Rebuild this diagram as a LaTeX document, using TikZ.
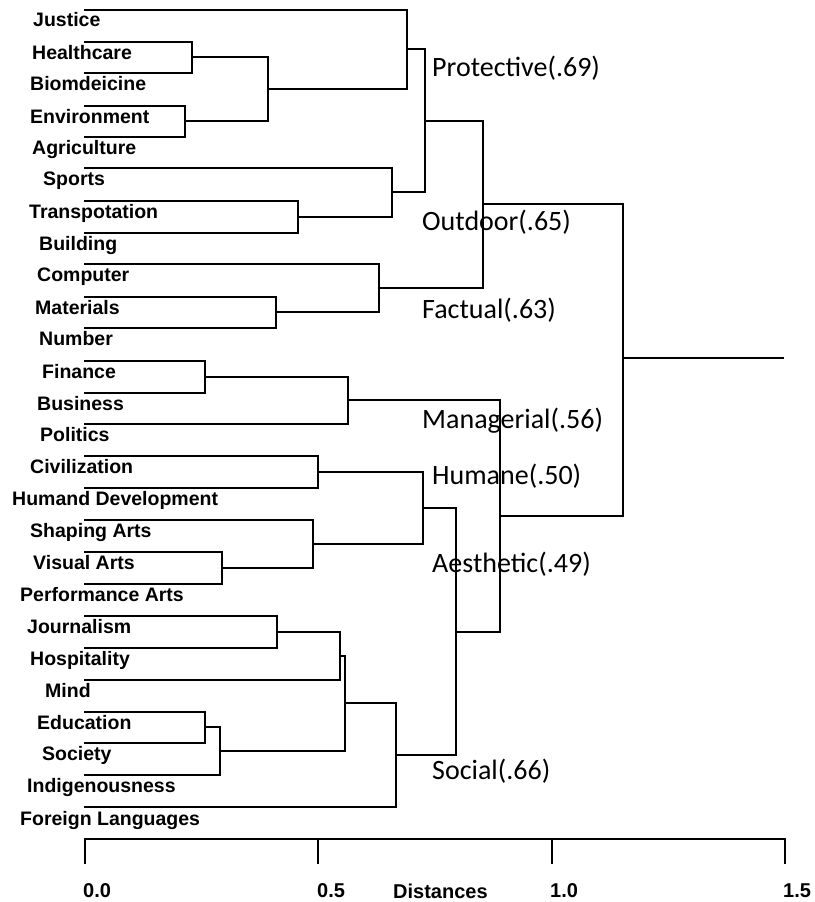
\documentclass[tikz,border=0pt]{standalone}
\usepackage{fontspec}
\setmainfont{Liberation Sans}
\newfontfamily\clusterfont{Carlito}
\begin{document}
\begin{tikzpicture}[x=1pt,y=-1pt,
  leaf/.style={font=\fontsize{19.5}{19.5}\selectfont\bfseries, anchor=base west, inner sep=0pt},
  clus/.style={font=\clusterfont\fontsize{28}{28}\selectfont, anchor=west, inner sep=0pt},
  ticklab/.style={font=\fontsize{20}{20}\selectfont\bfseries, anchor=base west, inner sep=0pt},
  dline/.style={line width=1.9pt, line cap=rect, line join=miter}]
\useasboundingbox (0,0) rectangle (814,902);
% leaf line starts
\foreach \n/\y in {Justice/10, Healthcare/42, Biomdeicine/73, Environment/106, Agriculture/137,
  Sports/168, Transpotation/201, Building/233, Computer/264, Materials/297, Number/328,
  Finance/361, Business/393, Politics/424, Civilization/456, HumandDev/488, Shaping/520,
  Visual/552, Performance/584, Journalism/616, Hospitality/648, Mind/680, Education/712,
  Society/743, Indigenousness/775, Foreign/807}
  \coordinate (l\n) at (85,\y);
% leaf labels
\node[leaf] (tJustice) at (33,27) {Justice};
\node[leaf] (tHealthcare) at (32,59) {Healthcare};
\node[leaf] (tBiomdeicine) at (30,90) {Biomdeicine};
\node[leaf] (tEnvironment) at (30,123) {Environment};
\node[leaf] (tAgriculture) at (32,154) {Agriculture};
\node[leaf] (tSports) at (43,185) {Sports};
\node[leaf] (tTranspotation) at (29,218) {Transpotation};
\node[leaf] (tBuilding) at (39,250) {Building};
\node[leaf] (tComputer) at (37,281) {Computer};
\node[leaf] (tMaterials) at (35,314) {Materials};
\node[leaf] (tNumber) at (39,345) {Number};
\node[leaf] (tFinance) at (42,378) {Finance};
\node[leaf] (tBusiness) at (37,410) {Business};
\node[leaf] (tPolitics) at (40,441) {Politics};
\node[leaf] (tCivilization) at (30,473) {Civilization};
\node[leaf] (tHumandDev) at (12,505) {Humand Development};
\node[leaf] (tShaping) at (30,537) {Shaping Arts};
\node[leaf] (tVisual) at (33,569) {Visual Arts};
\node[leaf] (tPerformance) at (20,601) {Performance Arts};
\node[leaf] (tJournalism) at (27,633) {Journalism};
\node[leaf] (tHospitality) at (30,665) {Hospitality};
\node[leaf] (tMind) at (45,697) {Mind};
\node[leaf] (tEducation) at (37,729) {Education};
\node[leaf] (tSociety) at (42,760) {Society};
\node[leaf] (tIndigenousness) at (27,792) {Indigenousness};
\node[leaf] (tForeign) at (20,825) {Foreign Languages};
% merge points
\coordinate (m1) at (192,57);
\coordinate (m2) at (185,121);
\coordinate (m3) at (268,89);
\coordinate (m4) at (407,49);
\coordinate (m5) at (298,217);
\coordinate (m6) at (392,192);
\coordinate (m7) at (425,121);
\coordinate (m8) at (276,312);
\coordinate (m9) at (379,288);
\coordinate (m10) at (483,204);
\coordinate (m11) at (205,377);
\coordinate (m12) at (348,400);
\coordinate (m13) at (318,472);
\coordinate (m14) at (222,568);
\coordinate (m15) at (313,544);
\coordinate (m16) at (423,508);
\coordinate (m17) at (277,632);
\coordinate (m18) at (340,656);
\coordinate (m19) at (205,727);
\coordinate (m20) at (220,751);
\coordinate (m21) at (345,703);
\coordinate (m22) at (396,755);
\coordinate (m23) at (456,632);
\coordinate (m24) at (500,516);
\coordinate (m25) at (623,358);
\coordinate (rootend) at (783,358);
% brackets
\draw[dline] (lHealthcare) -| (m1) |- (lBiomdeicine);
\draw[dline] (lEnvironment) -| (m2) |- (lAgriculture);
\draw[dline] (m1) -| (m3) |- (m2);
\draw[dline] (lJustice) -| (m4) |- (m3);
\draw[dline] (lTranspotation) -| (m5) |- (lBuilding);
\draw[dline] (lSports) -| (m6) |- (m5);
\draw[dline] (m4) -| (m7) |- (m6);
\draw[dline] (lMaterials) -| (m8) |- (lNumber);
\draw[dline] (lComputer) -| (m9) |- (m8);
\draw[dline] (m7) -| (m10) |- (m9);
\draw[dline] (lFinance) -| (m11) |- (lBusiness);
\draw[dline] (m11) -| (m12) |- (lPolitics);
\draw[dline] (lCivilization) -| (m13) |- (lHumandDev);
\draw[dline] (lVisual) -| (m14) |- (lPerformance);
\draw[dline] (lShaping) -| (m15) |- (m14);
\draw[dline] (m13) -| (m16) |- (m15);
\draw[dline] (lJournalism) -| (m17) |- (lHospitality);
\draw[dline] (m17) -| (m18) |- (lMind);
\draw[dline] (lEducation) -| (m19) |- (lSociety);
\draw[dline] (m19) -| (m20) |- (lIndigenousness);
\draw[dline] (m18) -| (m21) |- (m20);
\draw[dline] (m21) -| (m22) |- (lForeign);
\draw[dline] (m16) -| (m23) |- (m22);
\draw[dline] (m12) -| (m24) |- (m23);
\draw[dline] (m10) -| (m25) |- (m24);
\draw[dline] (m25) -- (rootend);
% cluster labels
\node[clus] (cProtective) at (432,68) {Protective(.69)};
\node[clus] (cOutdoor) at (422,222) {Outdoor(.65)};
\node[clus] (cFactual) at (422,310) {Factual(.63)};
\node[clus] (cManagerial) at (422,421) {Managerial(.56)};
\node[clus] (cHumane) at (432,476) {Humane(.50)};
\node[clus] (cAesthetic) at (432,564) {Aesthetic(.49)};
\node[clus] (cSocial) at (432,771) {Social(.66)};
% axis
\coordinate (a0) at (85,839);
\coordinate (a1) at (318,839);
\coordinate (a2) at (552,839);
\coordinate (a3) at (785,839);
\draw[dline] (a0) -- (a3);
\foreach \a in {a0,a1,a2,a3} \draw[dline] (\a) -- ++(0,24);
\node[ticklab] (x0) at (83,897) {0.0};
\node[ticklab] (x1) at (317,897) {0.5};
\node[ticklab] (x2) at (550,897) {1.0};
\node[ticklab] (x3) at (783,897) {1.5};
\node[ticklab] (xlab) at (393,898) {Distances};
\end{tikzpicture}
\end{document}
